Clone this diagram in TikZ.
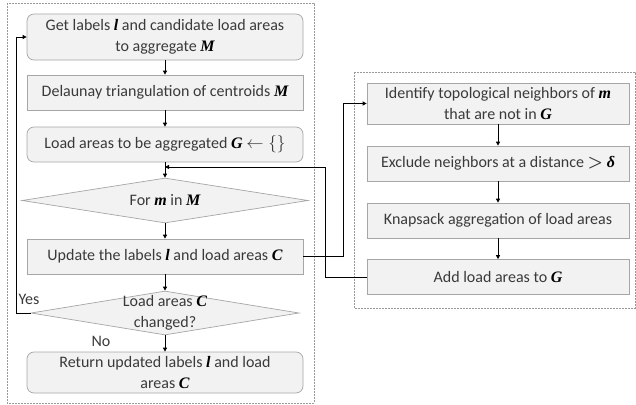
\documentclass[tikz,border=0pt]{standalone}
\usepackage{fontspec}
\usepackage{bm}
\setmainfont{Carlito}
\newfontfamily\mathvar{Liberation Serif}
\usetikzlibrary{shapes.geometric,arrows.meta}
\definecolor{boxfill}{HTML}{F2F2F2}
\definecolor{boxdraw}{HTML}{A6A6A6}
\definecolor{txt}{HTML}{3A3A3A}
\newcommand{\mv}[1]{{\mathvar\bfseries\itshape\color{black}#1}}
\begin{document}
\begin{tikzpicture}[x=1pt,y=-1pt,
  font=\fontsize{16}{21.5}\selectfont, text=txt,
  sq/.style={draw=boxdraw, fill=boxfill, line width=0.7pt, minimum width=276pt, inner sep=0pt, align=center},
  rnd/.style={sq, rounded corners=7pt},
  rbox/.style={draw=boxdraw, fill=boxfill, line width=0.7pt, minimum width=262pt, inner sep=0pt, align=center},
  dia/.style={diamond, draw=boxdraw, fill=boxfill, line width=0.7pt, inner sep=0pt},
  frame/.style={draw=gray!80, dashed, dash pattern=on 2pt off 1pt, line width=0.6pt},
  arr/.style={-{Triangle[length=4pt,width=4pt]}, line width=0.8pt, black},
  ln/.style={line width=0.8pt, black}]
\useasboundingbox (0,0) rectangle (636,404);
\draw[frame] (7,3) rectangle (314,403);
\draw[frame] (354,72) rectangle (635,308);
% left column
\node[rnd, minimum height=46pt] (b1) at (165,37) {Get labels \mv{l} and candidate load areas\\to aggregate \mv{M}};
\node[sq, minimum height=35pt] (b2) at (165,92.5) {Delaunay triangulation of centroids \mv{M}};
\node[rnd, minimum height=35pt] (b3) at (165,144.5) {Load areas to be aggregated \mv{G} $\leftarrow\{\}$};
\node[dia, minimum width=286pt, minimum height=45pt] (d1) at (165,200.5) {};
\node at (d1) {For \mv{m} in \mv{M}};
\node[sq, minimum height=35pt] (b4) at (165,256.5) {Update the labels \mv{l} and load areas \mv{C}};
\node[dia, minimum width=268pt, minimum height=44pt] (d2) at (165,313) {};
\node[align=center] at (d2) {Load areas \mv{C}\\changed?};
\node[rnd, minimum height=41pt] (b5) at (165,372.5) {Return updated labels \mv{l} and load\\areas \mv{C}};
% right column
\node[rbox, minimum height=41pt] (r1) at (498,103.5) {Identify topological neighbors of \mv{m}\\that are not in \mv{G}};
\node[rbox, minimum height=35pt] (r2) at (498,163.5) {Exclude neighbors at a distance $\bm{>}$ \mv{δ}};
\node[rbox, minimum height=35pt] (r3) at (498,220.5) {Knapsack aggregation of load areas};
\node[rbox, minimum height=35pt] (r4) at (498,277) {Add load areas to \mv{G}};
% connectors
\draw[arr] (b1) -- (b2);
\draw[arr] (b2) -- (b3);
\draw[arr] (b3) -- (d1);
\draw[arr] (d1) -- (b4);
\draw[arr] (b4) -- (d2);
\draw[arr] (d2) -- (b5);
\node[anchor=west] (no) at (88,341) {No};
\coordinate (yl) at (16,313);
\coordinate (yt) at (16,37);
\draw[arr] (d2.west) -- (yl) -- (yt) -- (b1.west);
\node[anchor=west] (yes) at (15,299) {Yes};
\coordinate (c1) at (343,256.5);
\coordinate (c2) at (343,103.5);
\draw[arr] (b4.east) -- (c1) -- (c2) -- (r1.west);
\draw[arr] (r1) -- (r2);
\draw[arr] (r2) -- (r3);
\draw[arr] (r3) -- (r4);
\coordinate (e1) at (325,277);
\coordinate (e2) at (325,167);
\coordinate (e3) at (165,167);
\draw[arr] (r4.west) -- (e1) -- (e2) -- (e3);
\end{tikzpicture}
\end{document}
